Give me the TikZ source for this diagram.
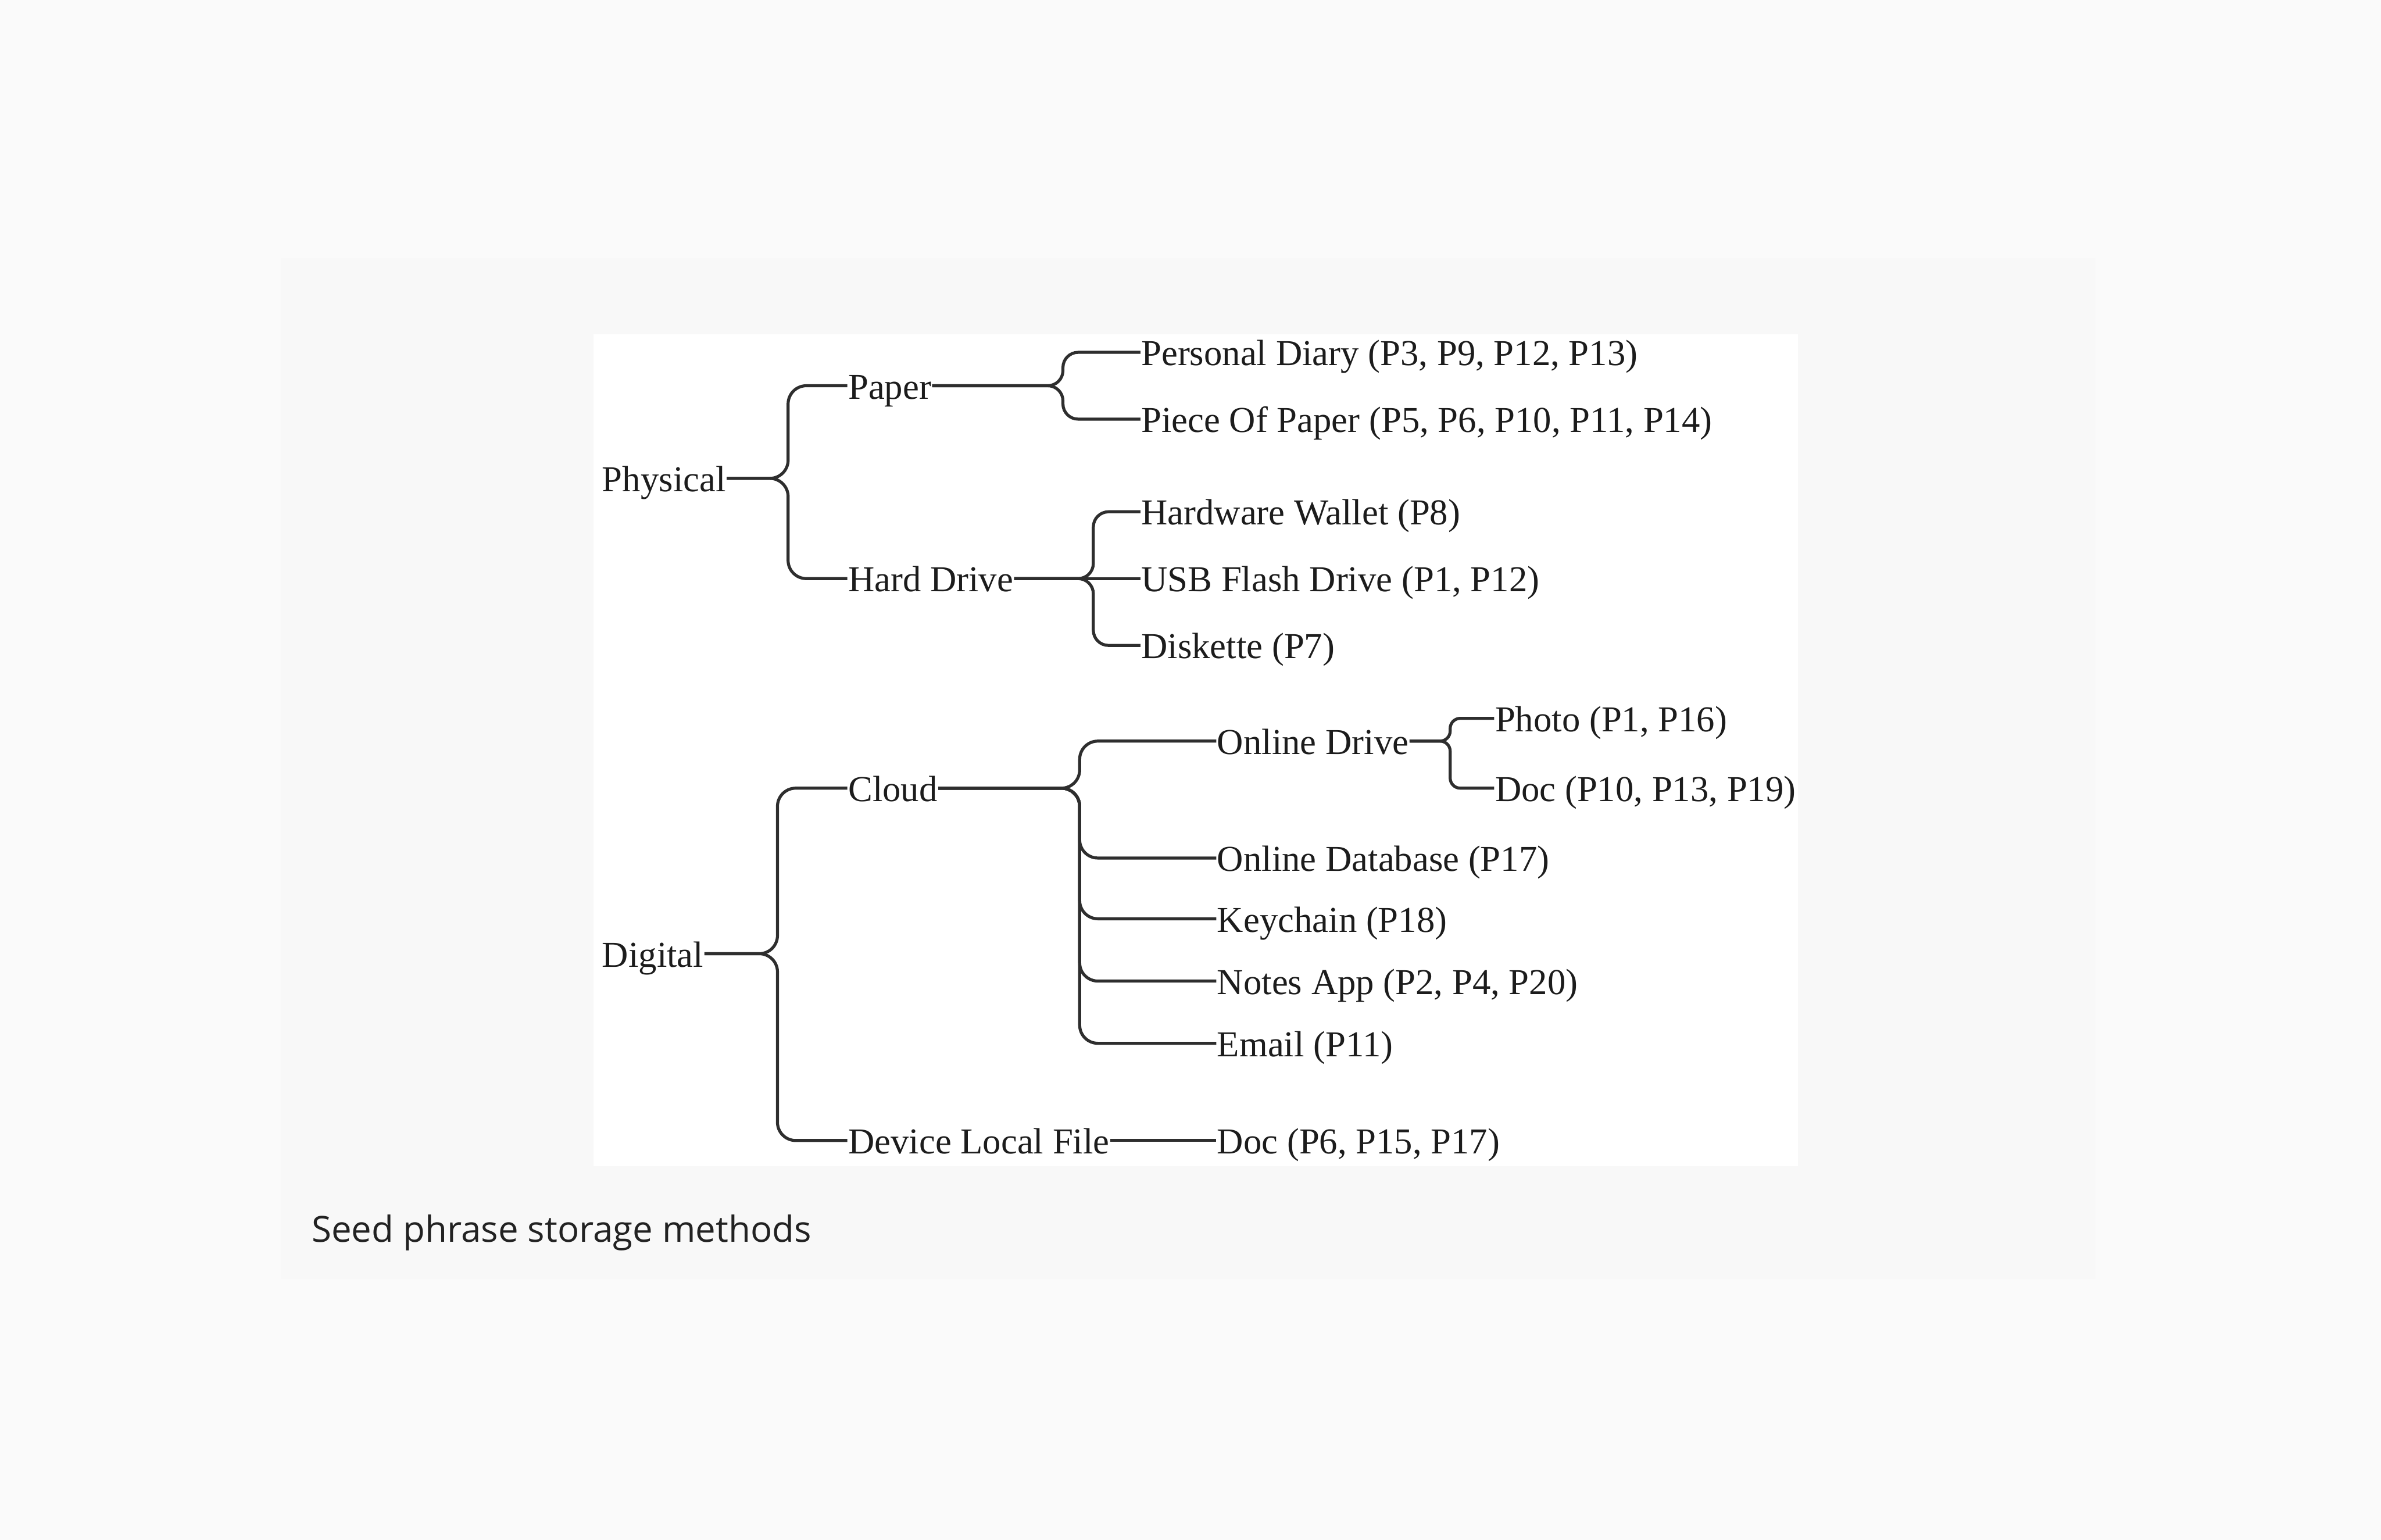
\documentclass[tikz,border=0pt]{standalone}
\usepackage{fontspec}
\setmainfont{Liberation Serif}
\newfontfamily\capfont{Open Sans}
\usetikzlibrary{positioning}
\definecolor{pagebg}{HTML}{FAFAFA}
\definecolor{cardbg}{HTML}{F8F8F8}
\definecolor{inkclr}{HTML}{1C1C1C}
\definecolor{lineclr}{HTML}{2E2E2E}
\definecolor{capclr}{HTML}{222222}

\begin{document}
\begin{tikzpicture}[x=0.03cm, y=-0.03cm,
  leaf/.style={anchor=west, inner xsep=0.5pt, inner ysep=0pt, outer sep=0pt,
               text height=14.8pt, text depth=0pt, text=inkclr,
               font=\fontsize{20.5}{24}\selectfont},
  link/.style={draw=lineclr, line width=1.7pt, rounded corners=3.6mm},
  ]
  % page, card and figure ground
  \fill[pagebg] (0,0) rectangle (1568,1014);
  \fill[cardbg] (185,170) rectangle (1380,842);
  \fill[white] (391,220) rectangle (1184,768);

  % physical branch
  \node[leaf] (phys)  at (396,315) {Physical};
  \node[leaf] (paper) at (558,254) {Paper};
  \node[leaf] (hard)  at (558,381) {Hard Drive};
  \node[leaf] (diary) at (751,232) {Personal Diary (P3, P9, P12, P13)};
  \node[leaf] (piece) at (751,276) {Piece Of Paper (P5, P6, P10, P11, P14)};
  \node[leaf] (hwal)  at (751,337) {Hardware Wallet (P8)};
  \node[leaf] (usb)   at (751,381) {USB Flash Drive (P1, P12)};
  \node[leaf] (disk)  at (751,425) {Diskette (P7)};

  % digital branch
  \node[leaf] (digi)  at (396,628) {Digital};
  \node[leaf] (cloud) at (558,519) {Cloud};
  \node[leaf] (dlf)   at (558,751) {Device Local File};
  \node[leaf] (odrv)  at (801,488) {Online Drive};
  \node[leaf] (photo) at (984,473) {Photo (P1, P16)};
  \node[leaf] (odoc)  at (984,519) {Doc (P10, P13, P19)};
  \node[leaf] (odb)   at (801,565) {Online Database (P17)};
  \node[leaf] (kchn)  at (801,605) {Keychain (P18)};
  \node[leaf] (note)  at (801,646) {Notes App (P2, P4, P20)};
  \node[leaf] (mail)  at (801,687) {Email (P11)};
  \node[leaf] (ldoc)  at (801,751) {Doc (P6, P15, P17)};

  \node[anchor=base west, inner sep=0pt, text=capclr,
        font=\capfont\fontsize{20.2}{24}\selectfont] (cap) at (205,818)
        {Seed phrase storage methods};

  % brace junctions
  \coordinate (physbar)  at (519,315);
  \coordinate (paperbar) at (700,254);
  \coordinate (hardbar)  at (720,381);
  \coordinate (digibar)  at (512,628);
  \coordinate (cloudbar) at (711,519);
  \coordinate (odrvbar)  at (955,488);

  \foreach \c in {paper,hard}
    \draw[link] (phys.east) -- (physbar) |- (\c.west);
  \foreach \c in {diary,piece}
    \draw[link, rounded corners=3mm] (paper.east) -- (paperbar) |- (\c.west);
  \foreach \c in {hwal,disk}
    \draw[link, rounded corners=3mm] (hard.east) -- (hardbar) |- (\c.west);
  \draw[link] (hard.east) -- (usb.west);

  \foreach \c in {cloud,dlf}
    \draw[link] (digi.east) -- (digibar) |- (\c.west);
  \foreach \c in {odrv,odb,kchn,note,mail}
    \draw[link] (cloud.east) -- (cloudbar) |- (\c.west);
  \foreach \c in {photo,odoc}
    \draw[link, rounded corners=2mm] (odrv.east) -- (odrvbar) |- (\c.west);
  \draw[link] (dlf.east) -- (ldoc.west);
\end{tikzpicture}
\end{document}
